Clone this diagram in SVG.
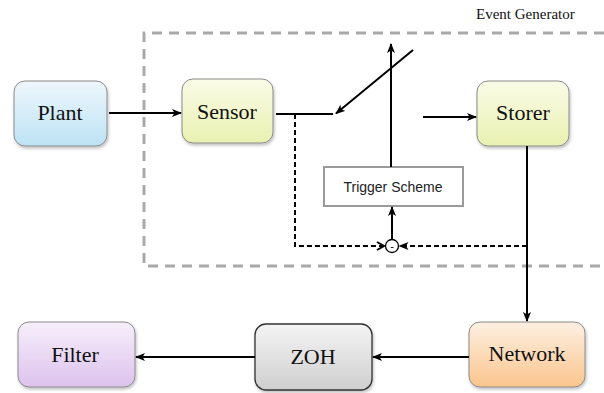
<svg xmlns="http://www.w3.org/2000/svg" width="604" height="393" viewBox="0 0 604 393">
<defs>
<linearGradient id="gBlue" x1="0" y1="0" x2="0" y2="1"><stop offset="0" stop-color="#eef7fc"/><stop offset="1" stop-color="#bde2f4"/></linearGradient>
<linearGradient id="gYellow" x1="0" y1="0" x2="0" y2="1"><stop offset="0" stop-color="#fafce8"/><stop offset="1" stop-color="#e9f1b0"/></linearGradient>
<linearGradient id="gPurple" x1="0" y1="0" x2="0" y2="1"><stop offset="0" stop-color="#f7effb"/><stop offset="1" stop-color="#dcc2ec"/></linearGradient>
<linearGradient id="gGray" x1="0" y1="0" x2="0" y2="1"><stop offset="0" stop-color="#f4f4f4"/><stop offset="1" stop-color="#cfcfcf"/></linearGradient>
<linearGradient id="gOrange" x1="0" y1="0" x2="0" y2="1"><stop offset="0" stop-color="#fdf0e2"/><stop offset="1" stop-color="#fbc58e"/></linearGradient>
<filter id="sh" x="-10%" y="-10%" width="125%" height="130%"><feDropShadow dx="1" dy="2" stdDeviation="1.5" flood-color="#000" flood-opacity="0.25"/></filter>
<marker id="arr" markerWidth="10" markerHeight="8" refX="9" refY="4" orient="auto" markerUnits="userSpaceOnUse"><path d="M0,0 L10,4 L0,8 L2.5,4 Z" fill="#000"/></marker>
<marker id="open" markerWidth="10" markerHeight="10" refX="8" refY="5" orient="auto" markerUnits="userSpaceOnUse"><path d="M1,1 L8,5 L1,9" fill="none" stroke="#000" stroke-width="2"/></marker>
</defs>
<style>
.node{stroke:#8a8a8a;stroke-width:1;filter:url(#sh)}
.lbl{font-size:22px;fill:#111;text-anchor:middle}
.ln{fill:none;stroke:#000;stroke-width:2}
.dash{fill:none;stroke:#000;stroke-width:2;stroke-dasharray:5,3}
</style>
<path d="M604,33 L144,33 L144,266 L604,266" fill="none" stroke="#a9a9a9" stroke-width="3" stroke-dasharray="10,7"/>
<text x="476" y="19" font-family="Liberation Serif, Times New Roman, serif" font-size="15" fill="#111">Event Generator</text>
<g id="plant"><rect class="node" x="14" y="81" width="93" height="65" rx="11" fill="url(#gBlue)"/><text class="lbl" font-family="Liberation Serif, serif" x="60" y="120">Plant</text></g>
<g id="sensor"><rect class="node" x="182" y="79" width="91" height="64" rx="11" fill="url(#gYellow)"/><text class="lbl" font-family="Liberation Serif, serif" x="227" y="119">Sensor</text></g>
<g id="storer"><rect class="node" x="477" y="81" width="92" height="65" rx="11" fill="url(#gYellow)"/><text class="lbl" font-family="Liberation Serif, serif" x="523" y="120">Storer</text></g>
<g id="trigger"><rect x="324" y="167" width="139" height="39" fill="#fff" stroke="#9a9a9a" stroke-width="2"/><text x="393" y="192" font-family="Liberation Sans, Arial, sans-serif" font-size="14" fill="#222" text-anchor="middle">Trigger Scheme</text></g>
<g id="sum"><circle cx="392" cy="246" r="6.5" fill="#fff" stroke="#000" stroke-width="1.3"/><text x="392" y="250" font-family="Liberation Sans, Arial, sans-serif" font-size="11" text-anchor="middle" fill="#000">-</text></g>
<g id="network"><rect class="node" x="469" y="322" width="116" height="65" rx="11" fill="url(#gOrange)"/><text class="lbl" font-family="Liberation Serif, serif" x="527" y="361">Network</text></g>
<g id="zoh"><rect x="255" y="324" width="117" height="66" rx="11" fill="url(#gGray)" stroke="#333" stroke-width="1.3" filter="url(#sh)"/><text class="lbl" font-family="Liberation Serif, serif" x="313" y="364">ZOH</text></g>
<g id="filter"><rect class="node" x="18" y="322" width="117" height="65" rx="11" fill="url(#gPurple)"/><text class="lbl" font-family="Liberation Serif, serif" x="75" y="362">Filter</text></g>
<g id="connectors">
<line class="ln" x1="109" y1="113" x2="181" y2="113" marker-end="url(#arr)"/>
<line class="ln" x1="276" y1="114" x2="333" y2="114"/>
<line class="ln" x1="413" y1="50" x2="336" y2="113.5" marker-end="url(#arr)"/>
<line class="ln" x1="391" y1="167" x2="391" y2="44" marker-end="url(#arr)"/>
<line class="ln" x1="423" y1="117" x2="476" y2="117" marker-end="url(#arr)"/>
<line class="ln" x1="527" y1="146" x2="527" y2="321" marker-end="url(#arr)"/>
<line class="ln" x1="392" y1="239.5" x2="392" y2="207" marker-end="url(#arr)"/>
<path class="dash" d="M295,114 L295,246 L384,246" marker-end="url(#open)"/>
<line class="dash" x1="527" y1="246" x2="399.5" y2="246" marker-end="url(#arr)"/>
<line class="ln" x1="469" y1="357" x2="373" y2="357" marker-end="url(#arr)"/>
<line class="ln" x1="255" y1="357" x2="136" y2="357" marker-end="url(#arr)"/>
</g>
</svg>
